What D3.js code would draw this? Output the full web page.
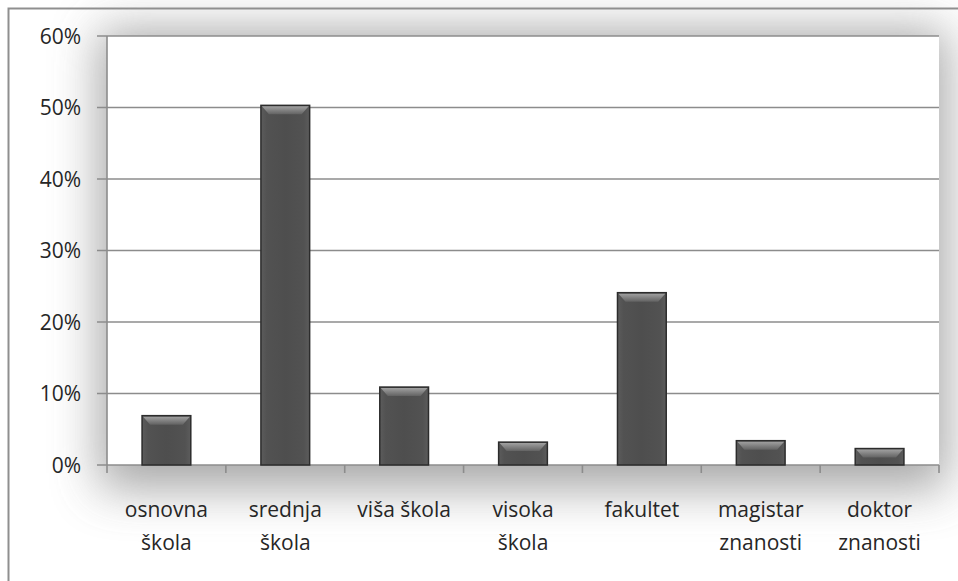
<!DOCTYPE html>
<html>
<head>
<meta charset="utf-8">
<script src="https://cdn.jsdelivr.net/npm/d3@7"></script>
<style>
  html, body { margin: 0; padding: 0; background: #fff; }
  svg { display: block; }
  text { font-family: "Open Sans", "DejaVu Sans", sans-serif; fill: #262626; }
</style>
</head>
<body>
<svg id="chart" width="958" height="581"></svg>
<script>
// Education level categories (two-line labels)
const categories = [
  ["osnovna", "škola"],
  ["srednja", "škola"],
  ["viša škola"],
  ["visoka", "škola"],
  ["fakultet"],
  ["magistar", "znanosti"],
  ["doktor", "znanosti"]
];
// Share of respondents (%)
const values = [6.9, 50.3, 10.9, 3.2, 24.1, 3.4, 2.3];
const yTicks = [0, 10, 20, 30, 40, 50, 60];

const svg = d3.select("#chart");
const W = 958, H = 581;
const plot = { left: 107, top: 36, right: 939, bottom: 465 };

const defs = svg.append("defs");
const blur = defs.append("filter").attr("id", "shadow")
  .attr("x", "-20%").attr("y", "-20%").attr("width", "140%").attr("height", "140%");
blur.append("feGaussianBlur").attr("stdDeviation", 24);

// bar gradients: body shading and bevel highlights
const body = defs.append("linearGradient").attr("id", "barBody")
  .attr("x1", 0).attr("x2", 1).attr("y1", 0).attr("y2", 0);
[[0, "#5c5c5c"], [0.12, "#525252"], [0.5, "#4e4e4e"], [0.88, "#525252"], [1, "#5c5c5c"]]
  .forEach(([o, c]) => body.append("stop").attr("offset", o).attr("stop-color", c));
const bevel = defs.append("linearGradient").attr("id", "bevelTop")
  .attr("x1", 0).attr("x2", 0).attr("y1", 0).attr("y2", 1);
[[0, "#a0a0a0"], [1, "#626262"]]
  .forEach(([o, c]) => bevel.append("stop").attr("offset", o).attr("stop-color", c));

// outer frame
svg.append("rect").attr("x", 8.5).attr("y", 8.5).attr("width", W).attr("height", H)
  .attr("fill", "#fff").attr("stroke", "#8f8f8f").attr("stroke-width", 2);

// soft shadow around the plot area
svg.append("rect")
  .attr("x", plot.left - 8).attr("y", plot.top - 6)
  .attr("width", plot.right - plot.left + 16).attr("height", plot.bottom - plot.top + 30)
  .attr("fill", "#929292").attr("opacity", 0.8).attr("filter", "url(#shadow)");

svg.append("rect")
  .attr("x", plot.left).attr("y", plot.top)
  .attr("width", plot.right - plot.left).attr("height", plot.bottom - plot.top)
  .attr("fill", "#fff");

const x = d3.scaleBand().domain(d3.range(categories.length))
  .range([plot.left, plot.right]).paddingInner(0.59).paddingOuter(0.295);
const xBound = d3.scaleLinear().domain([0, categories.length]).range([plot.left, plot.right]);
const y = d3.scaleLinear().domain([0, 60]).range([plot.bottom, plot.top]);

// gridlines
svg.append("g").selectAll("line").data(yTicks).join("line")
  .attr("x1", plot.left - 10).attr("x2", plot.right)
  .attr("y1", d => y(d)).attr("y2", d => y(d))
  .attr("stroke", "#8c8c8c").attr("stroke-width", 1.6);

// y axis line
svg.append("line").attr("x1", plot.left).attr("x2", plot.left)
  .attr("y1", plot.top).attr("y2", plot.bottom + 8)
  .attr("stroke", "#8c8c8c").attr("stroke-width", 1.6);

// category boundary ticks
svg.append("g").selectAll("line").data(d3.range(1, categories.length + 1)).join("line")
  .attr("x1", d => xBound(d)).attr("x2", d => xBound(d))
  .attr("y1", plot.bottom).attr("y2", plot.bottom + 8)
  .attr("stroke", "#8c8c8c").attr("stroke-width", 1.6);

// y tick labels
svg.append("g").selectAll("text").data(yTicks).join("text")
  .attr("x", 81).attr("y", d => y(d)).attr("dy", "0.36em")
  .attr("text-anchor", "end").attr("font-size", 21)
  .text(d => d + "%");

// bars with bevelled edges
const bars = svg.append("g").selectAll("g").data(values).join("g");
bars.append("rect")
  .attr("x", (d, i) => x(i)).attr("y", d => y(d))
  .attr("width", x.bandwidth()).attr("height", d => y(0) - y(d))
  .attr("fill", "url(#barBody)").attr("stroke", "#2c2c2c").attr("stroke-width", 1.5);
bars.append("path")
  .attr("d", (d, i) => {
    const x0 = x(i) + 1, x1 = x(i) + x.bandwidth() - 1, t = y(d) + 1;
    const b = Math.min(8, (y(0) - y(d)) / 2);
    return `M${x0},${t}L${x1},${t}L${x1 - 7},${t + b}L${x0 + 7},${t + b}Z`;
  })
  .attr("fill", "url(#bevelTop)");

// category labels
const labels = svg.append("g").selectAll("text").data(categories).join("text")
  .attr("x", (d, i) => x(i) + x.bandwidth() / 2)
  .attr("y", 517).attr("text-anchor", "middle").attr("font-size", 21);
labels.selectAll("tspan").data(d => d).join("tspan")
  .attr("x", function () { return this.parentNode.getAttribute("x"); })
  .attr("dy", (d, i) => i === 0 ? 0 : 33)
  .text(d => d);
</script>
</body>
</html>
